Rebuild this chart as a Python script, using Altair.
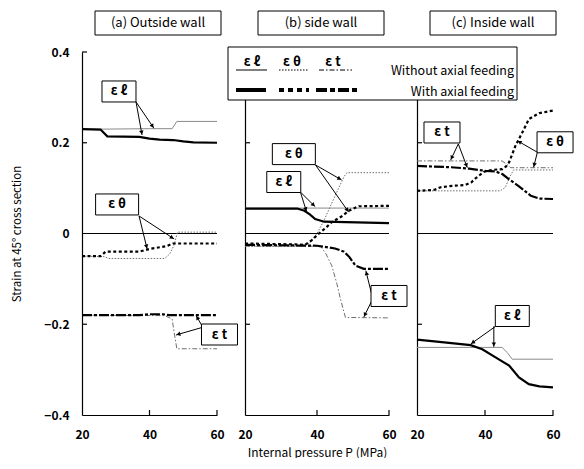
import math
import altair as alt
import pandas as pd

# ---------------- data ----------------
PANEL_TITLES = ["(a) Outside wall", "(b) side wall", "(c) Inside wall"]
X_TICKS = [20, 40, 60]
Y_TICKS = [-0.4, -0.2, 0, 0.2, 0.4]
Y_INNER_TICKS = [0.4, 0.2, -0.2]
X_INNER_TICKS = [40, 60]
SYMBOLS = ["ε ℓ", "ε θ", "ε t"]
LEGEND_ROWS = ["Without axial feeding", "With axial feeding"]
X_TITLE = "Internal pressure  P (MPa)"
Y_TITLE = "Strain at 45° cross section"

# (a) Outside wall
A_L_THIN_P = [20, 26, 40, 46.7, 48.1, 60]
A_L_THIN_V = [0.230, 0.230, 0.231, 0.231, 0.247, 0.247]
A_L_THICK_P = [20, 25.5, 27.5, 37, 40, 43, 47, 50, 53, 60]
A_L_THICK_V = [0.230, 0.229, 0.214, 0.213, 0.209, 0.207, 0.206, 0.203, 0.201, 0.200]
A_TH_THIN_P = [20, 26.5, 28, 44.5, 46, 47.3, 48.3, 60]
A_TH_THIN_V = [-0.050, -0.051, -0.055, -0.055, -0.045, -0.025, 0.003, 0.003]
A_TH_THICK_P = [20, 25.5, 27, 37, 40, 45, 47, 60]
A_TH_THICK_V = [-0.050, -0.050, -0.040, -0.040, -0.034, -0.028, -0.022, -0.022]
A_T_THIN_P = [20, 44.5, 46.7, 47.3, 48.1, 60]
A_T_THIN_V = [-0.180, -0.181, -0.188, -0.218, -0.254, -0.254]
A_T_THICK_P = [20, 37, 40, 44, 46, 60]
A_T_THICK_V = [-0.180, -0.180, -0.178, -0.178, -0.180, -0.180]

# (b) side wall
B_L_THIN_P = [20, 40, 60]
B_L_THIN_V = [0.056, 0.056, 0.056]
B_L_THICK_P = [20, 34.5, 36.5, 38, 39.5, 42, 60]
B_L_THICK_V = [0.055, 0.055, 0.050, 0.042, 0.032, 0.026, 0.023]
B_TH_THIN_P = [20, 36.5, 38, 40, 42, 44, 46, 47.5, 48.3, 60]
B_TH_THIN_V = [-0.028, -0.028, -0.020, 0.000, 0.030, 0.065, 0.100, 0.125, 0.134, 0.134]
B_TH_THICK_P = [20, 34, 36.7, 38.5, 40.4, 42.5, 44.1, 46.9, 48.8, 51.6, 60]
B_TH_THICK_V = [-0.022, -0.024, -0.025, -0.015, -0.001, 0.013, 0.025, 0.038, 0.050, 0.060, 0.061]
B_T_THIN_P = [20, 41, 42.5, 44.1, 45.5, 46.5, 47.9, 60]
B_T_THIN_V = [-0.028, -0.028, -0.045, -0.071, -0.110, -0.144, -0.185, -0.186]
B_T_THICK_P = [20, 40, 45, 47.5, 49, 50.7, 53, 60]
B_T_THICK_V = [-0.025, -0.027, -0.033, -0.040, -0.052, -0.071, -0.078, -0.078]

# (c) Inside wall
C_L_THIN_P = [20, 45, 46.5, 48, 60]
C_L_THIN_V = [-0.251, -0.251, -0.262, -0.277, -0.277]
C_L_THICK_P = [20, 28, 35.8, 39.2, 43.1, 47.1, 50, 52.9, 56, 60]
C_L_THICK_V = [-0.234, -0.240, -0.246, -0.255, -0.273, -0.291, -0.317, -0.332, -0.337, -0.339]
C_TH_THIN_P = [20, 44.5, 46, 47.3, 48.4, 60]
C_TH_THIN_V = [0.094, 0.094, 0.102, 0.125, 0.140, 0.140]
C_TH_THICK_P = [20, 25, 27, 30.4, 34.3, 36, 37.3, 39.7, 42, 45.1, 46.2, 47.1, 49.0, 51.0, 52.9, 55.9, 60]
C_TH_THICK_V = [0.094, 0.096, 0.102, 0.105, 0.107, 0.113, 0.122, 0.136, 0.140, 0.142, 0.148, 0.157, 0.194, 0.223, 0.252, 0.265, 0.271]
C_T_THIN_P = [20, 45, 46.5, 47.6, 60]
C_T_THIN_V = [0.160, 0.160, 0.152, 0.145, 0.145]
C_T_THICK_P = [20, 30, 35.3, 40.2, 43, 45.1, 47, 50, 53.5, 56, 60]
C_T_THICK_V = [0.149, 0.146, 0.143, 0.138, 0.137, 0.131, 0.120, 0.104, 0.083, 0.077, 0.076]

# annotation labels (label, P, strain) and arrows (P from, strain from, P to, strain to)
A_LABELS = [("ε ℓ", 30.96, 0.313), ("ε θ", 30.4, 0.064), ("ε t", 60.74, -0.2226)]
A_ARROWS = [(36.0, 0.290, 37.8, 0.217), (36.0, 0.290, 41.3, 0.232),
            (36.9, 0.0386, 39.3, -0.034), (36.9, 0.0386, 47.3, -0.012),
            (55.6, -0.2037, 53.8, -0.181), (55.6, -0.2070, 47.85, -0.2237)]
B_LABELS = [("ε θ", 33.57, 0.175), ("ε ℓ", 30.77, 0.1135), ("ε t", 60.0, -0.1377)]
B_ARROWS = [(39.58, 0.151, 46.85, 0.118), (39.58, 0.151, 48.81, 0.047),
            (35.38, 0.0915, 39.5, 0.059), (35.38, 0.0915, 37.1, 0.048),
            (55.24, -0.1355, 53.57, -0.0820), (55.24, -0.148, 53.0, -0.184)]
C_LABELS = [("ε t", 27.35, 0.2226), ("ε θ", 60.6, 0.201), ("ε ℓ", 48.03, -0.1818)]
C_ARROWS = [(32.15, 0.1973, 29.9, 0.1620), (32.15, 0.1973, 34.8, 0.1450),
            (55.4, 0.179, 49.5, 0.2045), (55.4, 0.179, 54.3, 0.146),
            (43.14, -0.2045, 35.8, -0.2435), (42.6, -0.2045, 42.6, -0.250)]

# ---------------- layout / style ----------------
W = [135, 144, 136]
H = 363
SY = H / 0.8
FONT = "Noto Sans CJK JP"
BOX_W = [{"ε ℓ": 34, "ε θ": 43, "ε t": 36},
         {"ε ℓ": 34, "ε θ": 43, "ε t": 36},
         {"ε ℓ": 34, "ε θ": 36, "ε t": 36}]
BOX_H = 21

STY = {
    ("l", "thin"): dict(color="#8a8a8a", strokeWidth=1),
    ("th", "thin"): dict(color="#6e6e6e", strokeWidth=1, strokeDash=[1.5, 1.5]),
    ("t", "thin"): dict(color="#6e6e6e", strokeWidth=1, strokeDash=[5, 2, 1.5, 2]),
    ("l", "thick"): dict(color="black", strokeWidth=2.2),
    ("th", "thick"): dict(color="black", strokeWidth=2.2, strokeDash=[3, 2.5]),
    ("t", "thick"): dict(color="black", strokeWidth=2.2, strokeDash=[10, 2, 3, 2]),
}

CURVES = [
    [(("l", "thin"), A_L_THIN_P, A_L_THIN_V), (("th", "thin"), A_TH_THIN_P, A_TH_THIN_V),
     (("t", "thin"), A_T_THIN_P, A_T_THIN_V), (("l", "thick"), A_L_THICK_P, A_L_THICK_V),
     (("th", "thick"), A_TH_THICK_P, A_TH_THICK_V), (("t", "thick"), A_T_THICK_P, A_T_THICK_V)],
    [(("l", "thin"), B_L_THIN_P, B_L_THIN_V), (("th", "thin"), B_TH_THIN_P, B_TH_THIN_V),
     (("t", "thin"), B_T_THIN_P, B_T_THIN_V), (("l", "thick"), B_L_THICK_P, B_L_THICK_V),
     (("th", "thick"), B_TH_THICK_P, B_TH_THICK_V), (("t", "thick"), B_T_THICK_P, B_T_THICK_V)],
    [(("l", "thin"), C_L_THIN_P, C_L_THIN_V), (("th", "thin"), C_TH_THIN_P, C_TH_THIN_V),
     (("t", "thin"), C_T_THIN_P, C_T_THIN_V), (("l", "thick"), C_L_THICK_P, C_L_THICK_V),
     (("th", "thick"), C_TH_THICK_P, C_TH_THICK_V), (("t", "thick"), C_T_THICK_P, C_T_THICK_V)],
]
LABELS = [A_LABELS, B_LABELS, C_LABELS]
ARROWS = [A_ARROWS, B_ARROWS, C_ARROWS]

ONE = pd.DataFrame({"k": [0]})


def legend_layers():
    L = []
    L.append(alt.Chart(ONE).mark_rect(fill="white", stroke="black", strokeWidth=1).encode(
        x=alt.value(-189), x2=alt.value(100), y=alt.value(-5), y2=alt.value(48)))
    sym_x = [-165, -125, -84]
    for s, xx in zip(SYMBOLS, sym_x):
        L.append(alt.Chart(ONE).mark_text(text=s, font=FONT, fontSize=13, fontWeight="bold",
                                          color="black", align="center", baseline="middle").encode(
            x=alt.value(xx), y=alt.value(10)))
    thin = [(-181, -150, STY[("l", "thin")]), (-138, -108, STY[("th", "thin")]), (-98, -65, STY[("t", "thin")])]
    for x1, x2, st in thin:
        st2 = dict(st); st2["color"] = "black"
        L.append(alt.Chart(ONE).mark_rule(**st2).encode(x=alt.value(x1), x2=alt.value(x2), y=alt.value(18)))
    thick = [(-181, -151, dict(color="black", strokeWidth=4)),
             (-138, -108, dict(color="black", strokeWidth=4, strokeDash=[5, 4])),
             (-101, -60, dict(color="black", strokeWidth=4, strokeDash=[11, 3, 5, 3]))]
    for x1, x2, st in thick:
        L.append(alt.Chart(ONE).mark_rule(**st).encode(x=alt.value(x1), x2=alt.value(x2), y=alt.value(38)))
    for txt, yy in zip(LEGEND_ROWS, [18.5, 39.5]):
        L.append(alt.Chart(ONE).mark_text(text=txt, font=FONT, fontSize=12.5, color="black",
                                          align="right", baseline="middle").encode(
            x=alt.value(97), y=alt.value(yy)))
    return L


def make_panel(i):
    w = W[i]
    sx = w / 40.0
    xs = alt.Scale(domain=[20, 60], nice=False, zero=False)
    ys = alt.Scale(domain=[-0.4, 0.4], nice=False, zero=False)
    x_axis = alt.Axis(values=X_TICKS, ticks=False, tickSize=0, grid=False, domainColor="black",
                      domainWidth=1.2, labelFontSize=12, labelFontWeight="bold", labelColor="black",
                      labelPadding=14, labelFlush=False, labelFont=FONT,
                      title=(X_TITLE if i == 1 else None), titleFontSize=12, titleFontWeight="normal",
                      titleColor="black", titlePadding=7, titleFont=FONT)
    if i == 0:
        y_axis = alt.Axis(values=Y_TICKS, ticks=False, tickSize=0, grid=False, domainColor="black",
                          domainWidth=1.2, labelFontSize=12, labelFontWeight="bold", labelColor="black",
                          labelPadding=13, labelFlush=False, labelFont=FONT,
                          labelExpr="datum.value == 0 ? '0' : format(datum.value, '.1f')",
                          title=Y_TITLE, titleFontSize=11.5, titleFontWeight="normal",
                          titleColor="black", titlePadding=21, titleFont=FONT)
    else:
        y_axis = alt.Axis(values=Y_TICKS, labels=False, ticks=False, tickSize=0, grid=False,
                          domainColor="black", domainWidth=1.2, title=None)
    X = alt.X("P:Q", scale=xs, axis=x_axis)
    Y = alt.Y("v:Q", scale=ys, axis=y_axis)

    layers = []
    layers.append(alt.Chart(pd.DataFrame({"P": [20, 60], "v": [0, 0]})).mark_line(
        color="black", strokeWidth=1).encode(x=X, y=Y))
    layers.append(alt.Chart(pd.DataFrame({"v": Y_INNER_TICKS})).mark_rule(
        color="black", strokeWidth=1.2).encode(y=Y, x=alt.value(0), x2=alt.value(5)))
    layers.append(alt.Chart(pd.DataFrame({"P": X_INNER_TICKS})).mark_rule(
        color="black", strokeWidth=1.2).encode(x=X, y=alt.value(H), y2=alt.value(H - 5)))

    for key, P, V in CURVES[i]:
        layers.append(alt.Chart(pd.DataFrame({"P": P, "v": V})).mark_line(**STY[key]).encode(x=X, y=Y))

    arr = pd.DataFrame(ARROWS[i], columns=["P", "v", "P2", "v2"])
    layers.append(alt.Chart(arr).mark_rule(color="black", strokeWidth=1).encode(
        x=X, y=Y, x2="P2:Q", y2="v2:Q"))
    heads = []
    for p1, v1, p2, v2 in ARROWS[i]:
        dx = (p2 - p1) * sx
        dy = -(v2 - v1) * SY
        L = math.hypot(dx, dy)
        ang = math.degrees(math.atan2(dx, -dy)) % 360
        back = 2.5
        heads.append({"P": p2 - back * dx / L / sx, "v": v2 + back * dy / L / SY, "ang": ang})
    layers.append(alt.Chart(pd.DataFrame(heads)).mark_point(
        shape="triangle-up", filled=True, size=20, color="black", opacity=1).encode(
        x=X, y=Y, angle=alt.Angle("ang:Q", scale=None)))

    boxes = []
    for lab, p, v in LABELS[i]:
        bw = BOX_W[i][lab] / 2 / sx
        bh = BOX_H / 2 / SY
        boxes.append({"P": p - bw, "P2": p + bw, "v": v - bh, "v2": v + bh})
    layers.append(alt.Chart(pd.DataFrame(boxes)).mark_rect(
        fill="white", stroke="black", strokeWidth=1).encode(x=X, x2="P2:Q", y=Y, y2="v2:Q"))
    txt = pd.DataFrame([{"label": lab, "P": p, "v": v} for lab, p, v in LABELS[i]])
    layers.append(alt.Chart(txt).mark_text(font=FONT, fontSize=13, fontWeight="bold", color="black",
                                           align="center", baseline="middle").encode(
        x=X, y=Y, text="label:N"))

    # panel title box
    layers.append(alt.Chart(ONE).mark_rect(fill="white", stroke="black", strokeWidth=1).encode(
        x=alt.value(13), x2=alt.value(139), y=alt.value(-41), y2=alt.value(-17)))
    layers.append(alt.Chart(ONE).mark_text(text=PANEL_TITLES[i], font=FONT, fontSize=13, color="black",
                                           align="center", baseline="middle").encode(
        x=alt.value(76), y=alt.value(-29)))

    if i == 2:
        layers.extend(legend_layers())

    return alt.layer(*layers).properties(width=w, height=H)


chart = alt.hconcat(make_panel(0), make_panel(1), make_panel(2), spacing=28, bounds="flush").properties(
    padding={"left": 3, "top": 2, "right": 0, "bottom": 0}
).configure(font=FONT).configure_view(stroke=None)

chart.save("out.html", embed_options={"renderer": "svg", "actions": False})
